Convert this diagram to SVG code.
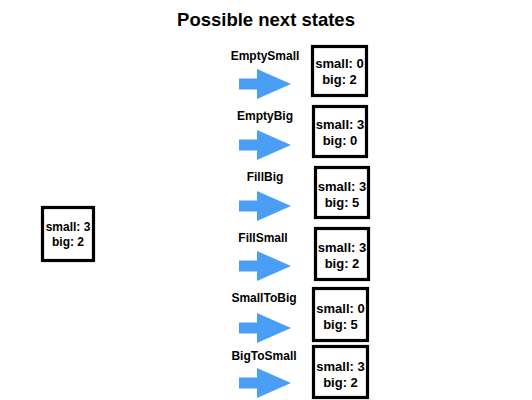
<svg xmlns="http://www.w3.org/2000/svg" width="532" height="400" viewBox="0 0 532 400">
<style>
.title{font-family:"Liberation Sans",Arial,sans-serif;font-weight:bold;font-size:18.5px;fill:#000;text-anchor:middle}
.lbl{font-family:"Liberation Sans",Arial,sans-serif;font-weight:bold;font-size:12px;fill:#000;text-anchor:middle}
.st{font-family:"Liberation Sans",Arial,sans-serif;font-weight:bold;font-size:13px;fill:#000;text-anchor:middle}
.st0{font-family:"Liberation Sans",Arial,sans-serif;font-weight:bold;font-size:12px;fill:#000;text-anchor:middle}
.box{fill:#fff;stroke:#000;stroke-width:3.2}
.arr{fill:#4A9FF5}
</style>
<defs>
<path id="arrow" class="arr" d="M239,-5.5 H257 V-15 L291,0 L257,15 V5.5 H239 Z"/>
</defs>
<rect width="532" height="400" fill="#fff"/>
<text class="title" x="266" y="26">Possible next states</text>
<g id="start">
<rect class="box" x="42.5" y="207.5" width="51" height="53"/>
<text class="st0" x="68" y="231">small: 3</text>
<text class="st0" x="68" y="246">big: 2</text>
</g>
<g id="connectors">
<use href="#arrow" transform="translate(0,84)"/>
<text class="lbl" x="265" y="60">EmptySmall</text>
<use href="#arrow" transform="translate(0,145)"/>
<text class="lbl" x="265" y="120">EmptyBig</text>
<use href="#arrow" transform="translate(0,206)"/>
<text class="lbl" x="265" y="181">FillBig</text>
<use href="#arrow" transform="translate(0,266)"/>
<text class="lbl" x="263" y="242">FillSmall</text>
<use href="#arrow" transform="translate(0,328)"/>
<text class="lbl" x="264" y="302">SmallToBig</text>
<use href="#arrow" transform="translate(0,383)"/>
<text class="lbl" x="264" y="360">BigToSmall</text>
</g>
<g id="s1">
<rect class="box" x="312.5" y="46.5" width="54" height="49"/>
<text class="st" x="339.5" y="68">small: 0</text>
<text class="st" x="339.5" y="84">big: 2</text>
</g>
<g id="s2">
<rect class="box" x="313.5" y="106.5" width="53" height="50"/>
<text class="st" x="340" y="129">small: 3</text>
<text class="st" x="340" y="145">big: 0</text>
</g>
<g id="s3">
<rect class="box" x="315.5" y="167.5" width="53" height="50"/>
<text class="st" x="342" y="191">small: 3</text>
<text class="st" x="342" y="207">big: 5</text>
</g>
<g id="s4">
<rect class="box" x="315.5" y="228.5" width="53" height="51"/>
<text class="st" x="342" y="252">small: 3</text>
<text class="st" x="342" y="268">big: 2</text>
</g>
<g id="s5">
<rect class="box" x="313.5" y="288.5" width="54" height="52"/>
<text class="st" x="340.5" y="313">small: 0</text>
<text class="st" x="340.5" y="329">big: 5</text>
</g>
<g id="s6">
<rect class="box" x="313.5" y="346.5" width="54" height="51"/>
<text class="st" x="340.5" y="371">small: 3</text>
<text class="st" x="340.5" y="387">big: 2</text>
</g>
</svg>
